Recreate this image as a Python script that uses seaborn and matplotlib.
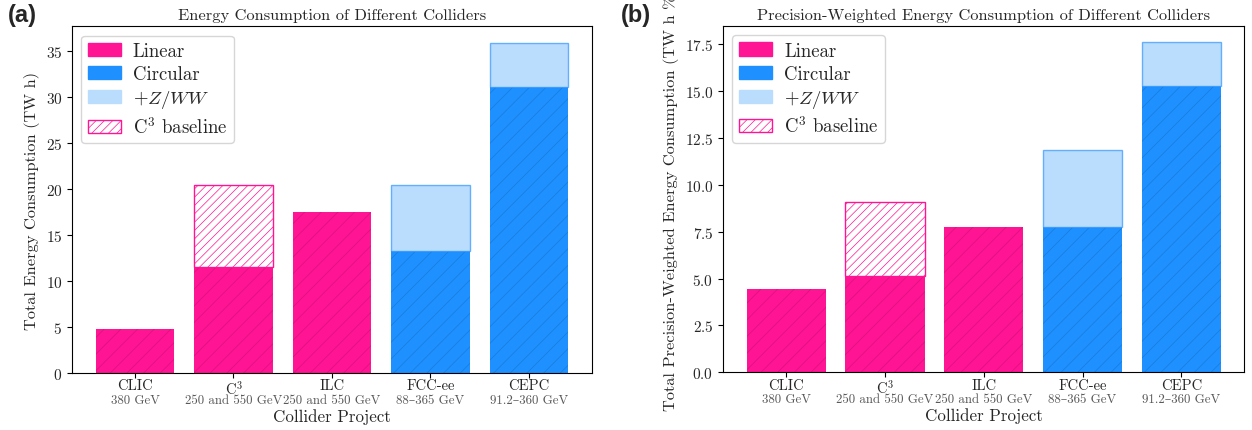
import numpy as np
import pandas as pd
import matplotlib
matplotlib.use('Agg')
import matplotlib.pyplot as plt
import matplotlib.transforms as mtransforms
from matplotlib.patches import Patch
import seaborn as sns

# %% Data
colliders = ['CLIC', 'C$^3$', 'ILC', 'FCC-ee', 'CEPC']
energies = ['380 GeV', '250 and 550 GeV', '250 and 550 GeV', '88–365 GeV', '91.2–360 GeV']
kind = ['Linear', 'Linear', 'Linear', 'Circular', 'Circular']

energy_base = [4.8, 11.55, 17.5, 13.3, 31.1]      # TW h
energy_extra = [0.0, 8.85, 0.0, 7.1, 4.8]         # C3 baseline / +Z/WW on top

precision_base = [4.45, 5.13, 7.75, 7.78, 15.26]  # TW h %
precision_extra = [0.0, 3.94, 0.0, 4.09, 2.36]

pink = '#FF1493'
blue = '#1E90FF'
light_blue = '#BBDDFD'

# %% Style
sns.set_style('ticks')
plt.rcParams['font.family'] = ['cmr10', 'DejaVu Serif']
plt.rcParams['mathtext.fontset'] = 'cm'
plt.rcParams['axes.formatter.use_mathtext'] = True
plt.rcParams['hatch.linewidth'] = 0.5
plt.rcParams['axes.unicode_minus'] = False


def draw_panel(ax, base, extra, title, ylabel):
    df = pd.DataFrame({'collider': colliders, 'value': base, 'kind': kind})
    sns.barplot(data=df, x='collider', y='value', hue='kind', dodge=False,
                palette={'Linear': pink, 'Circular': blue}, width=0.8,
                legend=False, ax=ax, saturation=1)
    for p in ax.patches:
        p.set_hatch('//')
        p.set_edgecolor((0, 0, 0, 0.15))
        p.set_linewidth(0)

    x = np.arange(len(colliders))
    for i in x:
        if extra[i] <= 0:
            continue
        if kind[i] == 'Linear':
            ax.bar(i, extra[i], bottom=base[i], width=0.8, facecolor='white',
                   edgecolor=pink, hatch='////', linewidth=1)
        else:
            ax.bar(i, extra[i], bottom=base[i], width=0.8, facecolor=light_blue,
                   edgecolor=(0.12, 0.56, 1.0, 0.65), linewidth=1)

    ax.set_xlim(-0.64, 4.64)
    ax.set_title(title, fontsize=11.8, color='0.15', pad=5)
    ax.set_ylabel(ylabel, fontsize=11.8, color='0.15')
    ax.set_xlabel('Collider Project', fontsize=12.2, color='0.15')
    ax.xaxis.set_label_coords(0.5, -0.1)
    ax.set_xticks(x)
    ax.set_xticklabels(colliders, fontsize=10.5)
    ax.tick_params(axis='y', labelsize=11)
    ax.tick_params(axis='x', pad=0.5)
    for s in ax.spines.values():
        s.set_color('black')
        s.set_visible(True)
    ax.tick_params(colors='black', labelcolor='0.15')

    trans = mtransforms.blended_transform_factory(ax.transData, ax.transAxes)
    for i, e in enumerate(energies):
        ax.text(i, -0.077, e, transform=trans, ha='center', va='center',
                fontsize=9.3, color='0.35')

    handles = [
        Patch(facecolor=pink, edgecolor=pink, label='Linear'),
        Patch(facecolor=blue, edgecolor=blue, label='Circular'),
        Patch(facecolor=light_blue, edgecolor=light_blue, label='$+Z/WW$'),
        Patch(facecolor='white', edgecolor=pink, hatch='////', label='C$^3$ baseline'),
    ]
    ax.legend(handles=handles, loc='upper left', fontsize=13.5, frameon=True,
              handlelength=1.75, handletextpad=0.65, borderpad=0.35,
              labelspacing=0.28)


fig = plt.figure(figsize=(12.52, 4.31), dpi=100)
ax1 = fig.add_axes([0.0575, 0.132, 0.4153, 0.805])
ax2 = fig.add_axes([0.5775, 0.134, 0.4165, 0.804])

draw_panel(ax1, energy_base, energy_extra,
           'Energy Consumption of Different Colliders',
           'Total Energy Consumption (TW h)')
draw_panel(ax2, precision_base, precision_extra,
           'Precision-Weighted Energy Consumption of Different Colliders',
           'Total Precision-Weighted Energy Consumption (TW h %)')

fig.text(0.006, 0.99, '(a)', fontsize=17, fontweight='bold', va='top',
         family='Liberation Sans')
fig.text(0.496, 0.99, '(b)', fontsize=17, fontweight='bold', va='top',
         family='Liberation Sans')

fig.savefig('out.png', dpi=100)
